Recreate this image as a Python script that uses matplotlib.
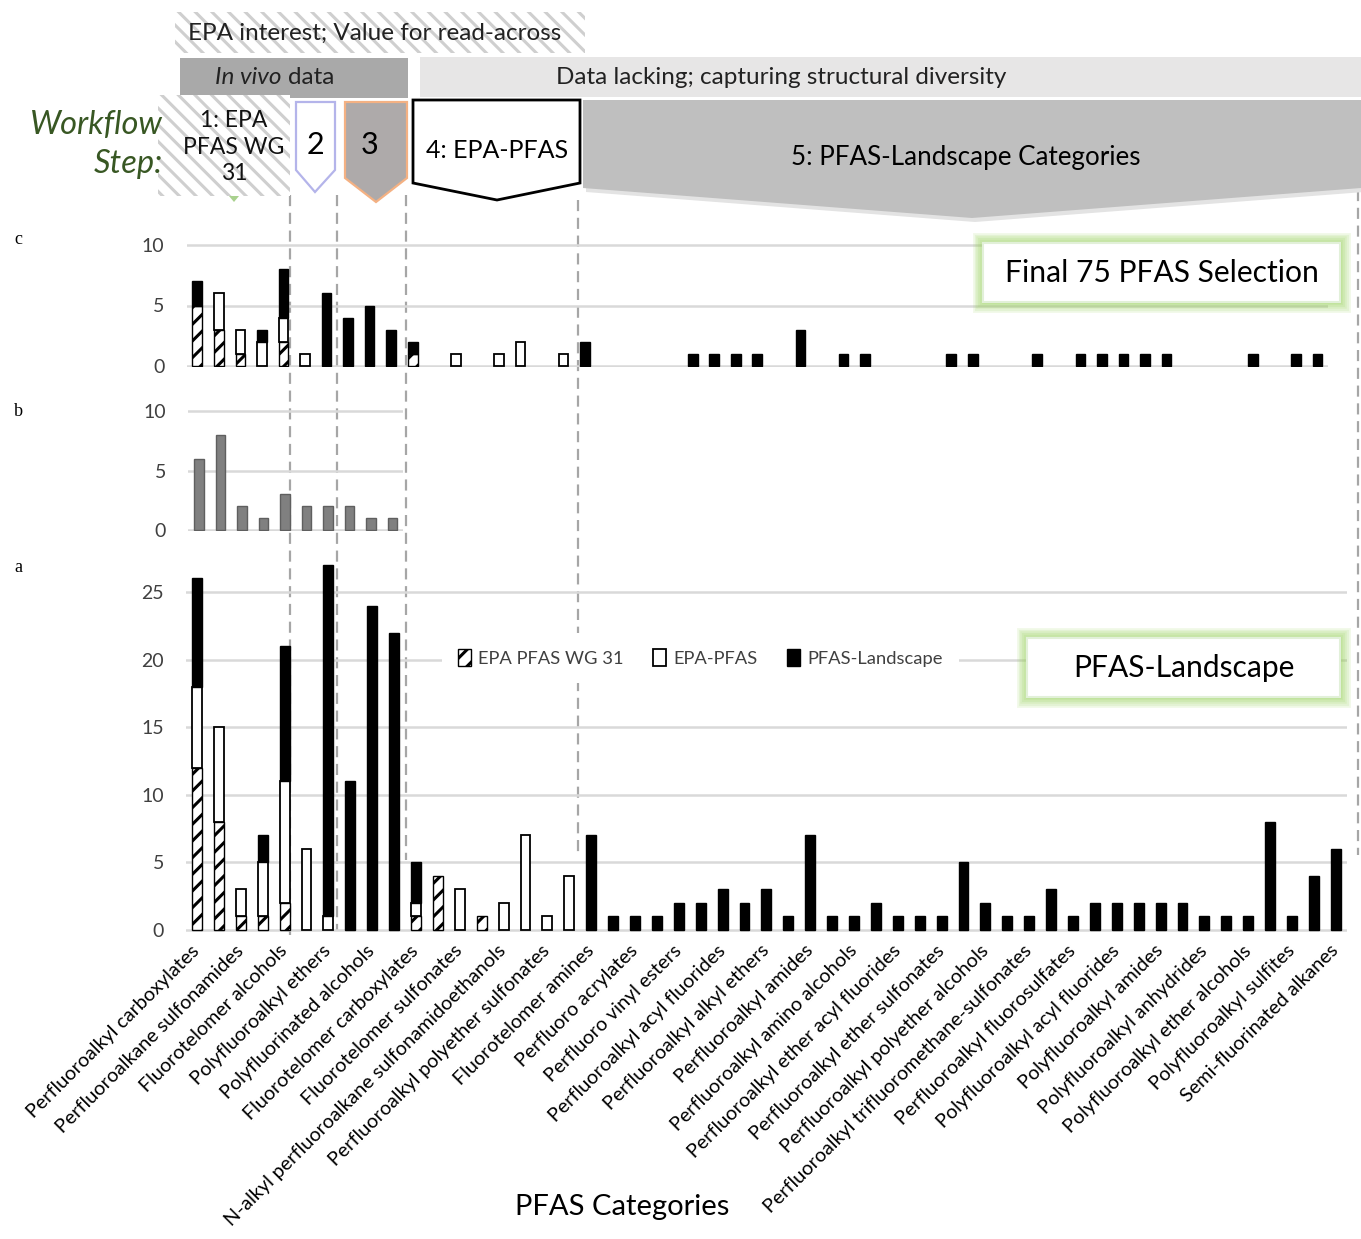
import matplotlib
matplotlib.use('Agg')
import matplotlib.pyplot as plt
from matplotlib.patches import Polygon, Rectangle

plt.rcParams['font.family'] = ['Lato', 'DejaVu Sans']
plt.rcParams['hatch.linewidth'] = 2.2

# labels shown on the x axis (every second category)
tick_labels = [
    'Perfluoroalkyl carboxylates', 'Perfluoroalkane sulfonamides', 'Fluorotelomer alcohols',
    'Polyfluoroalkyl ethers', 'Polyfluorinated alcohols', 'Fluorotelomer carboxylates',
    'Fluorotelomer sulfonates', 'N-alkyl perfluoroalkane sulfonamidoethanols',
    'Perfluoroalkyl polyether sulfonates', 'Fluorotelomer amines', 'Perfluoro acrylates',
    'Perfluoro vinyl esters', 'Perfluoroalkyl acyl fluorides', 'Perfluoroalkyl alkyl ethers',
    'Perfluoroalkyl amides', 'Perfluoroalkyl amino alcohols', 'Perfluoroalkyl ether acyl fluorides',
    'Perfluoroalkyl ether sulfonates', 'Perfluoroalkyl polyether alcohols',
    'Perfluoroalkyl trifluoromethane-sulfonates', 'Perfluoroalkyl fluorosulfates',
    'Polyfluoroalkyl acyl fluorides', 'Polyfluoroalkyl amides', 'Polyfluoroalkyl anhydrides',
    'Polyfluoroalkyl ether alcohols', 'Polyfluoroalkyl sulfites', 'Semi-fluorinated alkanes',
]
n_cat = 53

# panel a: PFAS-Landscape counts
wg31_a = [12, 8, 1, 1, 2, 0, 0, 0, 0, 0, 1, 4, 0, 1] + [0] * 39
epa_a = [6, 7, 2, 4, 9, 6, 1, 0, 0, 0, 1, 0, 3, 0, 2, 7, 1, 4] + [0] * 35
land_a = [8, 0, 0, 2, 10, 0, 26, 11, 24, 22, 3, 0, 0, 0, 0, 0, 0, 0,
          7, 1, 1, 1, 2, 2, 3, 2, 3, 1, 7, 1, 1, 2, 1, 1, 1, 5, 2, 1, 1, 3,
          1, 2, 2, 2, 2, 2, 1, 1, 1, 8, 1, 4, 6]

# panel b: in vivo data
invivo_b = [6, 8, 2, 1, 3, 2, 2, 2, 1, 1]

# panel c: final 75 selection
wg31_c = [5, 3, 1, 0, 2, 0, 0, 0, 0, 0, 1] + [0] * 42
epa_c = [0, 3, 2, 2, 2, 1, 0, 0, 0, 0, 0, 0, 1, 0, 1, 2, 0, 1] + [0] * 35
land_c = [2, 0, 0, 1, 4, 0, 6, 4, 5, 3, 1, 0, 0, 0, 0, 0, 0, 0, 2, 0,
          0, 0, 0, 1, 1, 1, 1, 0, 3, 0, 1, 1, 0, 0, 0, 1, 1, 0, 0, 1,
          0, 1, 1, 1, 1, 1, 0, 0, 0, 1, 0, 1, 1]

W, H = 1361, 1239
fig = plt.figure(figsize=(W / 100, H / 100), dpi=100)


def frac(x0, y_top, x1, y_bot):
    return [x0 / W, 1 - y_bot / H, (x1 - x0) / W, (y_bot - y_top) / H]


def overlay(z):
    ov = fig.add_axes([0, 0, 1, 1], zorder=z)
    ov.set_xlim(0, W)
    ov.set_ylim(H, 0)
    ov.axis('off')
    ov.patch.set_alpha(0)
    return ov


back = overlay(0)

# dashed group separators
for x, y0, y1 in [(290, 195, 935), (337, 195, 930), (406, 195, 860),
                  (578, 200, 855), (1358, 190, 855)]:
    back.plot([x, x], [y0, y1], color='#a6a6a6', lw=1.6, ls=(0, (5, 3)))

GRID = '#d9d9d9'
TXT = '#404040'


def style(ax, ticks):
    ax.set_facecolor('none')
    for s in ax.spines.values():
        s.set_visible(False)
    ax.set_yticks(ticks)
    ax.yaxis.grid(True, color=GRID, lw=1.8)
    ax.set_axisbelow(True)
    ax.tick_params(axis='y', length=0, pad=16, labelsize=14, labelcolor=TXT)
    ax.tick_params(axis='x', length=0)


def part(ax, vals, bottoms, **kw):
    idx = [i for i, v in enumerate(vals) if v > 0]
    return ax.bar(idx, [vals[i] for i in idx], 0.45,
                  bottom=[bottoms[i] for i in idx], **kw)


def stack(ax, wg, epa, land):
    zero = [0] * len(wg)
    base = [a + b for a, b in zip(wg, epa)]
    b1 = part(ax, wg, zero, color='white', edgecolor='black', hatch='//', lw=1.0)
    b2 = part(ax, epa, wg, color='white', edgecolor='black', lw=1.3)
    b3 = part(ax, land, base, color='black', edgecolor='black', lw=1.0)
    return b1, b2, b3


# panel c
ax_c = fig.add_axes(frac(186.5, 366 - 10.3 * 12.1, 186.5 + 53 * 21.54, 366 + 0.1 * 12.1), zorder=1)
stack(ax_c, wg31_c, epa_c, land_c)
ax_c.set_xlim(-0.5, n_cat - 0.5)
ax_c.set_ylim(-0.1, 10.3)
style(ax_c, [0, 5, 10])
ax_c.set_xticks([])

# panel b
ax_b = fig.add_axes(frac(188.25, 530 - 10.3 * 11.9, 188.25 + 10 * 21.5, 530 + 0.1 * 11.9), zorder=1)
ax_b.bar(range(len(invivo_b)), invivo_b, 0.45, color='#808080', edgecolor='#5f5f5f', lw=1.0)
ax_b.set_xlim(-0.5, len(invivo_b) - 0.5)
ax_b.set_ylim(-0.1, 10.3)
style(ax_b, [0, 5, 10])
ax_b.set_xticks([])

# panel a
ax_a = fig.add_axes(frac(186.05, 930 - 27.5 * 13.52, 186.05 + 53 * 21.9, 930 + 0.3 * 13.52), zorder=1)
h = stack(ax_a, wg31_a, epa_a, land_a)
ax_a.set_xlim(-0.5, n_cat - 0.5)
ax_a.set_ylim(-0.3, 27.5)
style(ax_a, [0, 5, 10, 15, 20, 25])
ax_a.set_xticks(range(0, n_cat, 2))
ax_a.set_xticklabels(tick_labels, rotation=45, ha='right', va='center',
                     rotation_mode='anchor', fontsize=14.2, color='black')
ax_a.tick_params(axis='x', pad=10)
leg = ax_a.legend(h, ['EPA PFAS WG 31', 'EPA-PFAS', 'PFAS-Landscape'], loc='center',
                  bbox_to_anchor=(0.443, 0.734), ncol=3, fontsize=13.2, frameon=True,
                  handlelength=0.7, handleheight=1.0, handletextpad=0.4,
                  columnspacing=1.6, borderpad=0.9)
leg.get_frame().set_edgecolor('none')
leg.get_frame().set_facecolor('white')
leg.get_frame().set_alpha(1)
for t in leg.get_texts():
    t.set_color(TXT)

front = overlay(5)
front.text(622, 1207, 'PFAS Categories', fontsize=21, ha='center', va='center')

# header bands
front.add_patch(Rectangle((175, 12), 410, 41, facecolor='white', edgecolor='#cfcfcf',
                          hatch='\\\\', lw=0))
front.text(188, 33, 'EPA interest; Value for read-across', fontsize=17.5, va='center', color='#222222')
front.add_patch(Rectangle((180, 58), 228, 40, facecolor='#a9a9a9', lw=0))
front.text(282, 78, 'In vivo', fontsize=17.5, style='italic', ha='right', va='center', color='#222222')
front.text(288, 78, 'data', fontsize=17.5, ha='left', va='center', color='#222222')
front.add_patch(Rectangle((420, 57), 941, 40, facecolor='#e7e6e6', lw=0))
front.text(781, 77, 'Data lacking; capturing structural diversity', fontsize=17.5,
           ha='center', va='center', color='#222222')

# workflow steps
front.text(163, 125, 'Workflow', fontsize=23.5, style='italic', color='#385723', ha='right', va='center')
front.text(163, 164, 'Step:', fontsize=23.5, style='italic', color='#385723', ha='right', va='center')
front.add_patch(Polygon([(224, 190), (244, 190), (234, 202)], closed=True, facecolor='#a9d18e', lw=0))
front.add_patch(Rectangle((158, 95), 132, 101, facecolor='white', edgecolor='#cfcfcf',
                          hatch='\\\\', lw=0))
front.text(234, 147, '1: EPA\nPFAS WG\n31', fontsize=16.5, ha='center', va='center',
           linespacing=1.3, color='#111111')
front.add_patch(Polygon([(296, 102), (335, 102), (335, 170), (315, 192), (296, 170)],
                        closed=True, facecolor='white', edgecolor='#b4b4ea', lw=1.6))
front.text(315, 145, '2', fontsize=22, ha='center', va='center')
front.add_patch(Polygon([(345, 102), (407, 102), (407, 178), (376, 202), (345, 178)],
                        closed=True, facecolor='#aeaaaa', edgecolor='#f4b183', lw=1.6))
front.text(370, 145, '3', fontsize=22, ha='center', va='center')
front.add_patch(Polygon([(586, 104), (1364, 104), (1364, 192), (975, 222), (586, 192)],
                        closed=True, facecolor='#e3e3e3', lw=0))
front.add_patch(Polygon([(583, 100), (1361, 100), (1361, 188), (972, 218), (583, 188)],
                        closed=True, facecolor='#bfbfbf', lw=0))
front.text(966, 157, '5: PFAS-Landscape Categories', fontsize=18.7, ha='center', va='center')
front.add_patch(Polygon([(413, 100), (580, 100), (580, 183), (497, 200), (413, 183)],
                        closed=True, facecolor='white', edgecolor='black', lw=2))
front.text(497, 150, '4: EPA-PFAS', fontsize=18, ha='center', va='center')


def glow_box(x0, y0, x1, y1, label):
    for i in range(6):
        front.add_patch(Rectangle((x0, y0), x1 - x0, y1 - y0, facecolor='none',
                                  edgecolor='#92d050', lw=2 + i * 2.6, alpha=0.13))
    front.add_patch(Rectangle((x0, y0), x1 - x0, y1 - y0, facecolor='white',
                              edgecolor='#e2f0d9', lw=1.5))
    front.text((x0 + x1) / 2, (y0 + y1) / 2 + 1, label, fontsize=21.6, ha='center', va='center')


glow_box(983, 243, 1340, 302, 'Final 75 PFAS Selection')
glow_box(1027, 638, 1340, 697, 'PFAS-Landscape')

# panel letters
for y, s in [(240, 'c'), (411, 'b'), (567, 'a')]:
    front.text(18, y, s, fontsize=13, family='Liberation Serif', ha='center', va='center')

fig.savefig('out.png', dpi=100)
